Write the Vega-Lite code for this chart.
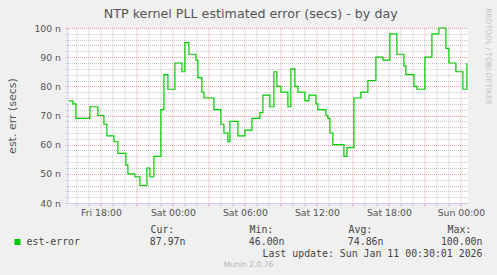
{
  "$schema": "https://vega.github.io/schema/vega-lite/v6.json",
  "background": "#f0f0f0",
  "padding": {"left": 6.5, "top": 8, "right": 10, "bottom": 10},
  "title": {"text": "RRDTOOL / TOBI OETIKER", "orient": "right", "anchor": "start", "frame": "bounds", "font": "DejaVu Sans", "fontSize": 7.5, "fontWeight": "normal", "color": "#c4c4c4", "offset": 0},
  "config": {"view": {"stroke": null}, "font": "DejaVu Sans", "concat": {"spacing": 5}},
  "vconcat": [
    {
      "width": 400,
      "height": 175,
      "view": {"fill": "white", "stroke": null},
      "title": {"text": "NTP kernel PLL estimated error (secs) - by day", "anchor": "middle", "frame": "bounds", "font": "DejaVu Sans", "fontSize": 12.7, "fontWeight": "normal", "color": "#555555", "offset": 3, "dx": 5},
      "data": {"values": [
        {"time": "2026-01-09T15:20:00Z", "error": 75},
        {"time": "2026-01-09T15:40:00Z", "error": 74},
        {"time": "2026-01-09T15:55:00Z", "error": 69},
        {"time": "2026-01-09T17:05:00Z", "error": 73},
        {"time": "2026-01-09T17:45:00Z", "error": 70},
        {"time": "2026-01-09T18:15:00Z", "error": 67},
        {"time": "2026-01-09T18:30:00Z", "error": 63},
        {"time": "2026-01-09T19:05:00Z", "error": 61},
        {"time": "2026-01-09T19:25:00Z", "error": 57},
        {"time": "2026-01-09T20:05:00Z", "error": 53},
        {"time": "2026-01-09T20:15:00Z", "error": 50},
        {"time": "2026-01-09T20:50:00Z", "error": 49},
        {"time": "2026-01-09T21:15:00Z", "error": 46},
        {"time": "2026-01-09T21:50:00Z", "error": 52},
        {"time": "2026-01-09T22:05:00Z", "error": 49},
        {"time": "2026-01-09T22:25:00Z", "error": 56},
        {"time": "2026-01-09T23:00:00Z", "error": 72},
        {"time": "2026-01-09T23:15:00Z", "error": 84},
        {"time": "2026-01-09T23:35:00Z", "error": 79},
        {"time": "2026-01-10T00:10:00Z", "error": 88},
        {"time": "2026-01-10T00:45:00Z", "error": 85},
        {"time": "2026-01-10T01:00:00Z", "error": 95},
        {"time": "2026-01-10T01:20:00Z", "error": 91},
        {"time": "2026-01-10T01:55:00Z", "error": 89},
        {"time": "2026-01-10T02:05:00Z", "error": 83},
        {"time": "2026-01-10T02:25:00Z", "error": 78},
        {"time": "2026-01-10T02:35:00Z", "error": 76},
        {"time": "2026-01-10T03:25:00Z", "error": 72},
        {"time": "2026-01-10T04:00:00Z", "error": 67},
        {"time": "2026-01-10T04:15:00Z", "error": 64},
        {"time": "2026-01-10T04:35:00Z", "error": 61},
        {"time": "2026-01-10T04:45:00Z", "error": 68},
        {"time": "2026-01-10T05:25:00Z", "error": 63},
        {"time": "2026-01-10T06:00:00Z", "error": 65},
        {"time": "2026-01-10T06:35:00Z", "error": 69},
        {"time": "2026-01-10T07:15:00Z", "error": 71},
        {"time": "2026-01-10T07:30:00Z", "error": 77},
        {"time": "2026-01-10T08:05:00Z", "error": 73},
        {"time": "2026-01-10T08:25:00Z", "error": 85},
        {"time": "2026-01-10T08:40:00Z", "error": 80},
        {"time": "2026-01-10T09:00:00Z", "error": 78},
        {"time": "2026-01-10T09:35:00Z", "error": 73},
        {"time": "2026-01-10T09:50:00Z", "error": 86},
        {"time": "2026-01-10T10:10:00Z", "error": 80},
        {"time": "2026-01-10T10:25:00Z", "error": 78},
        {"time": "2026-01-10T11:00:00Z", "error": 75},
        {"time": "2026-01-10T11:20:00Z", "error": 77},
        {"time": "2026-01-10T11:55:00Z", "error": 74},
        {"time": "2026-01-10T12:05:00Z", "error": 72},
        {"time": "2026-01-10T12:45:00Z", "error": 70},
        {"time": "2026-01-10T12:55:00Z", "error": 69},
        {"time": "2026-01-10T13:05:00Z", "error": 64},
        {"time": "2026-01-10T13:20:00Z", "error": 60},
        {"time": "2026-01-10T14:15:00Z", "error": 56},
        {"time": "2026-01-10T14:30:00Z", "error": 59},
        {"time": "2026-01-10T15:05:00Z", "error": 76},
        {"time": "2026-01-10T15:40:00Z", "error": 78},
        {"time": "2026-01-10T16:15:00Z", "error": 82},
        {"time": "2026-01-10T16:55:00Z", "error": 90},
        {"time": "2026-01-10T17:30:00Z", "error": 89},
        {"time": "2026-01-10T18:05:00Z", "error": 98},
        {"time": "2026-01-10T18:40:00Z", "error": 91},
        {"time": "2026-01-10T19:15:00Z", "error": 87},
        {"time": "2026-01-10T19:25:00Z", "error": 84},
        {"time": "2026-01-10T20:05:00Z", "error": 80},
        {"time": "2026-01-10T20:20:00Z", "error": 79},
        {"time": "2026-01-10T21:00:00Z", "error": 90},
        {"time": "2026-01-10T21:35:00Z", "error": 98},
        {"time": "2026-01-10T22:10:00Z", "error": 100},
        {"time": "2026-01-10T22:45:00Z", "error": 93},
        {"time": "2026-01-10T23:00:00Z", "error": 88},
        {"time": "2026-01-10T23:35:00Z", "error": 85},
        {"time": "2026-01-11T00:10:00Z", "error": 79},
        {"time": "2026-01-11T00:30:00Z", "error": 88}
      ]},
      "mark": {"type": "line", "interpolate": "step-after", "color": "#00cc00", "strokeWidth": 1.2},
      "encoding": {
        "x": {
          "field": "time", "type": "temporal",
          "scale": {"type": "utc", "domain": [1767971580000, 1768091580000]},
          "axis": {
            "title": null,
            "values": [1767974400000, 1767978000000, 1767981600000, 1767985200000, 1767988800000, 1767992400000, 1767996000000, 1767999600000, 1768003200000, 1768006800000, 1768010400000, 1768014000000, 1768017600000, 1768021200000, 1768024800000, 1768028400000, 1768032000000, 1768035600000, 1768039200000, 1768042800000, 1768046400000, 1768050000000, 1768053600000, 1768057200000, 1768060800000, 1768064400000, 1768068000000, 1768071600000, 1768075200000, 1768078800000, 1768082400000, 1768086000000, 1768089600000],
            "labelExpr": "utchours(datum.value) % 6 == 0 ? utcFormat(datum.value, '%a %H:%M') : ''",
            "labelOverlap": false,
            "labelBound": false,
            "labelFlush": false,
            "labelFontSize": 9.3,
            "labelColor": "#555555",
            "labelPadding": 2,
            "tickSize": 3,
            "tickColor": {"condition": {"test": "utchours(datum.value) % 3 == 0", "value": "#e0a0a0"}, "value": "#c8c8c8"},
            "domainColor": "#c8ccf0",
            "grid": true,
            "gridDash": [1, 1],
            "gridColor": {"condition": {"test": "utchours(datum.value) % 3 == 0", "value": "#e0a0a0"}, "value": "#c8c8c8"}
          }
        },
        "y": {
          "field": "error", "type": "quantitative",
          "scale": {"domain": [40, 100], "nice": false, "zero": false},
          "axis": {
            "title": "est. err (secs)",
            "titleFontSize": 11,
            "titleFontWeight": "normal",
            "titleColor": "#555555",
            "titlePadding": 16,
            "values": [40, 42, 44, 46, 48, 50, 52, 54, 56, 58, 60, 62, 64, 66, 68, 70, 72, 74, 76, 78, 80, 82, 84, 86, 88, 90, 92, 94, 96, 98, 100],
            "labelExpr": "datum.value % 10 == 0 ? datum.value + ' n' : ''",
            "labelOverlap": false,
            "labelBound": false,
            "labelFlush": false,
            "labelFontSize": 9.3,
            "labelColor": "#555555",
            "labelPadding": 5,
            "tickSize": 2,
            "tickColor": {"condition": {"test": "datum.value % 10 == 0", "value": "#e0a0a0"}, "value": "#c8c8c8"},
            "domainColor": "#c8ccf0",
            "grid": true,
            "gridDash": [1, 1],
            "gridColor": {"condition": {"test": "datum.value % 10 == 0", "value": "#e0a0a0"}, "value": "#c8c8c8"}
          }
        }
      }
    },
    {
      "width": 400,
      "height": 36,
      "title": {"text": "Munin 2.0.76", "orient": "bottom", "anchor": "middle", "frame": "bounds", "font": "DejaVu Sans", "fontSize": 7.6, "fontWeight": "normal", "color": "#b4b4b4", "offset": 2},
      "data": {"values": [
        {"row": "head", "col": "Cur", "kind": "label", "text": "Cur:"},
        {"row": "head", "col": "Min", "kind": "label", "text": "Min:"},
        {"row": "head", "col": "Avg", "kind": "label", "text": "Avg:"},
        {"row": "head", "col": "Max", "kind": "label", "text": "Max:"},
        {"row": "val", "col": "Cur", "kind": "value", "text": "87.97n"},
        {"row": "val", "col": "Min", "kind": "value", "text": "46.00n"},
        {"row": "val", "col": "Avg", "kind": "value", "text": "74.86n"},
        {"row": "val", "col": "Max", "kind": "value", "text": "100.00n"},
        {"row": "last", "col": "Max", "kind": "value", "text": "Last update: Sun Jan 11 00:30:01 2026"},
        {"row": "val", "col": "Cur", "kind": "series", "text": "est-error"}
      ]},
      "encoding": {
        "x": {"field": "col", "type": "ordinal", "scale": {"type": "point", "domain": ["Cur", "Min", "Avg", "Max"], "range": [83, 380], "padding": 0}, "axis": null},
        "y": {"field": "row", "type": "ordinal", "scale": {"type": "point", "domain": ["head", "val", "last"], "range": [7, 31], "padding": 0}, "axis": null}
      },
      "layer": [
        {
          "transform": [{"filter": "datum.kind == 'label'"}],
          "mark": {"type": "text", "align": "left", "font": "DejaVu Sans Mono", "fontSize": 9.9, "color": "#444444"},
          "encoding": {"text": {"field": "text", "type": "nominal"}}
        },
        {
          "transform": [{"filter": "datum.kind == 'value'"}],
          "mark": {"type": "text", "align": "right", "dx": 35, "font": "DejaVu Sans Mono", "fontSize": 9.9, "color": "#444444"},
          "encoding": {"text": {"field": "text", "type": "nominal"}}
        },
        {
          "transform": [{"filter": "datum.kind == 'series'"}],
          "mark": {"type": "text", "align": "left", "dx": -124, "font": "DejaVu Sans Mono", "fontSize": 9.9, "color": "#444444"},
          "encoding": {"text": {"field": "text", "type": "nominal"}}
        },
        {
          "transform": [{"filter": "datum.kind == 'series'"}],
          "mark": {"type": "point", "shape": "square", "filled": true, "size": 36, "color": "#00cc00", "opacity": 1, "xOffset": -133},
          "encoding": {}
        }
      ]
    }
  ]
}
